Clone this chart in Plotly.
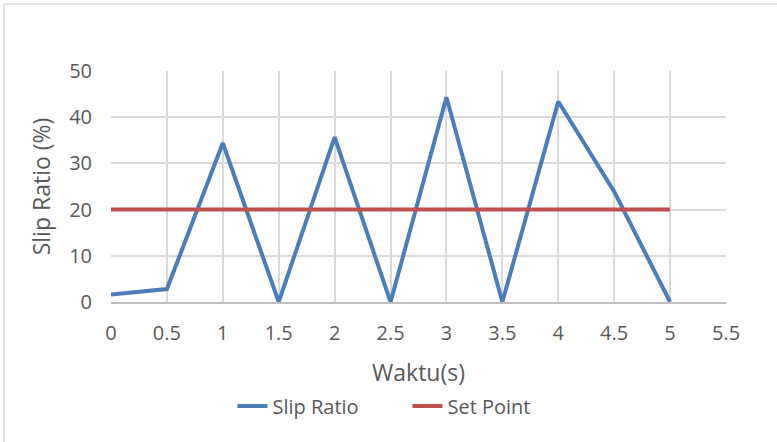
import plotly.graph_objects as go

# Time samples (s) and measured slip ratio (%)
waktu = [0, 0.5, 1, 1.5, 2, 2.5, 3, 3.5, 4, 4.5, 5]
slip_ratio = [1.6, 2.8, 34.4, 0, 35.7, 0, 44.3, 0, 43.4, 23.9, 0]

# Target slip ratio (%)
set_point_t = [0, 5]
set_point = [20, 20]

x_ticks = [0, 0.5, 1, 1.5, 2, 2.5, 3, 3.5, 4, 4.5, 5, 5.5]
y_ticks = [0, 10, 20, 30, 40, 50]

text_color = "#595959"
grid_color = "#D9D9D9"
font_family = "Open Sans, Liberation Sans, sans-serif"

fig = go.Figure()
fig.add_trace(go.Scatter(
    x=waktu, y=slip_ratio, mode="lines", name="Slip Ratio",
    line=dict(color="#4A7EBB", width=4), cliponaxis=False,
))
fig.add_trace(go.Scatter(
    x=set_point_t, y=set_point, mode="lines", name="Set Point",
    line=dict(color="#C0504D", width=4), cliponaxis=False,
))

fig.update_layout(
    width=777, height=442,
    margin=dict(l=111, r=51, t=71, b=140),
    paper_bgcolor="white", plot_bgcolor="white",
    font=dict(family=font_family, color=text_color, size=20),
    showlegend=True,
    legend=dict(
        orientation="h", x=0.482, xanchor="center", y=-0.45, yanchor="middle",
        font=dict(size=20, color=text_color), entrywidth=130,
        tracegroupgap=0,
    ),
    xaxis=dict(
        range=[0, 5.5], tickvals=x_ticks, ticktext=[f"{v:g}" for v in x_ticks],
        showgrid=True, gridcolor=grid_color, gridwidth=1.5,
        zeroline=False, showline=True, linecolor="#BFBFBF", linewidth=1.5,
        mirror=False, ticks="", ticklabelstandoff=12,
        tickfont=dict(size=20, color=text_color),
        title=dict(text="Waktu(s)", font=dict(size=23, color=text_color), standoff=20),
    ),
    yaxis=dict(
        range=[0, 50], tickvals=y_ticks,
        showgrid=True, gridcolor=grid_color, gridwidth=1.5,
        zeroline=False, showline=False, ticks="", ticklabelstandoff=18,
        tickfont=dict(size=20, color=text_color),
        title=dict(text="Slip Ratio (%)", font=dict(size=23, color=text_color), standoff=12),
    ),
    shapes=[
        # outer chart frame (left and top edges fall inside the canvas)
        dict(type="line", xref="paper", yref="paper",
             x0=-107 / 615, x1=1 + 60 / 615, y0=1 + 67 / 231, y1=1 + 67 / 231,
             line=dict(color="#D9D9D9", width=1.5)),
        dict(type="line", xref="paper", yref="paper",
             x0=-107 / 615, x1=-107 / 615, y0=1 + 67 / 231, y1=-150 / 231,
             line=dict(color="#D9D9D9", width=1.5)),
    ],
)

fig.write_html("out.html")
